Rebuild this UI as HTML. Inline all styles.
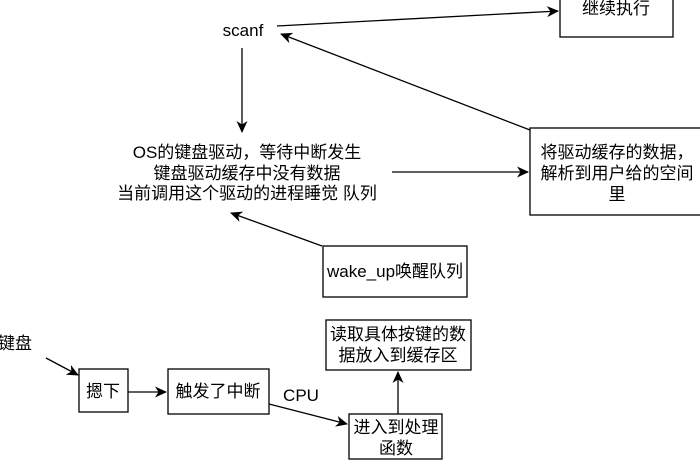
<!DOCTYPE html>
<html><head><meta charset="utf-8"><style>
html,body{margin:0;padding:0;background:#fff;}
svg{display:block;}
text{font-family:"Liberation Sans","Noto Sans CJK SC",sans-serif;font-size:17px;fill:#000;}
</style></head><body>
<svg width="700" height="468" viewBox="0 0 700 468" xmlns="http://www.w3.org/2000/svg">
<defs><marker id="a" markerWidth="12" markerHeight="12" refX="11" refY="6" orient="auto" markerUnits="userSpaceOnUse"><path d="M0,0.5 L12,6 L0,11.5 L3.5,6 z" fill="#000"/></marker></defs>
<g fill="none" stroke="#000" stroke-width="1.3">
<rect x="560" y="-5" width="113" height="42"/>
<rect x="530" y="128" width="175" height="87"/>
<rect x="323" y="246" width="144" height="51"/>
<rect x="326" y="320" width="145" height="50"/>
<rect x="79" y="369" width="49" height="43"/>
<rect x="168" y="369" width="101" height="45"/>
<rect x="349" y="414" width="93" height="45"/>
<line x1="277" y1="26" x2="558" y2="11" marker-end="url(#a)"/>
<line x1="530" y1="130" x2="281" y2="34" marker-end="url(#a)"/>
<line x1="242" y1="48" x2="242" y2="132" marker-end="url(#a)"/>
<line x1="392" y1="172" x2="528" y2="172" marker-end="url(#a)"/>
<line x1="322" y1="246" x2="231" y2="213" marker-end="url(#a)"/>
<line x1="46" y1="358" x2="78" y2="375" marker-end="url(#a)"/>
<line x1="128" y1="392" x2="166" y2="392" marker-end="url(#a)"/>
<line x1="269" y1="404" x2="347" y2="424" marker-end="url(#a)"/>
<line x1="398" y1="414" x2="398" y2="372" marker-end="url(#a)"/>
</g>
<g text-anchor="middle">
<text x="616" y="14">继续执行</text>
<text x="243" y="36">scanf</text>
<text x="247" y="158">OS的键盘驱动，等待中断发生</text>
<text x="247" y="179">键盘驱动缓存中没有数据</text>
<text x="247" y="199">当前调用这个驱动的进程睡觉 队列</text>
<text x="617" y="158">将驱动缓存的数据，</text>
<text x="617" y="179">解析到用户给的空间</text>
<text x="617" y="200">里</text>
<text x="395" y="277">wake_up唤醒队列</text>
<text x="398" y="340">读取具体按键的数</text>
<text x="398" y="361">据放入到缓存区</text>
<text x="15" y="349">键盘</text>
<text x="103" y="397">摁下</text>
<text x="218" y="397">触发了中断</text>
<text x="301" y="401">CPU</text>
<text x="396" y="433">进入到处理</text>
<text x="396" y="454">函数</text>
</g>
</svg>
</body></html>
